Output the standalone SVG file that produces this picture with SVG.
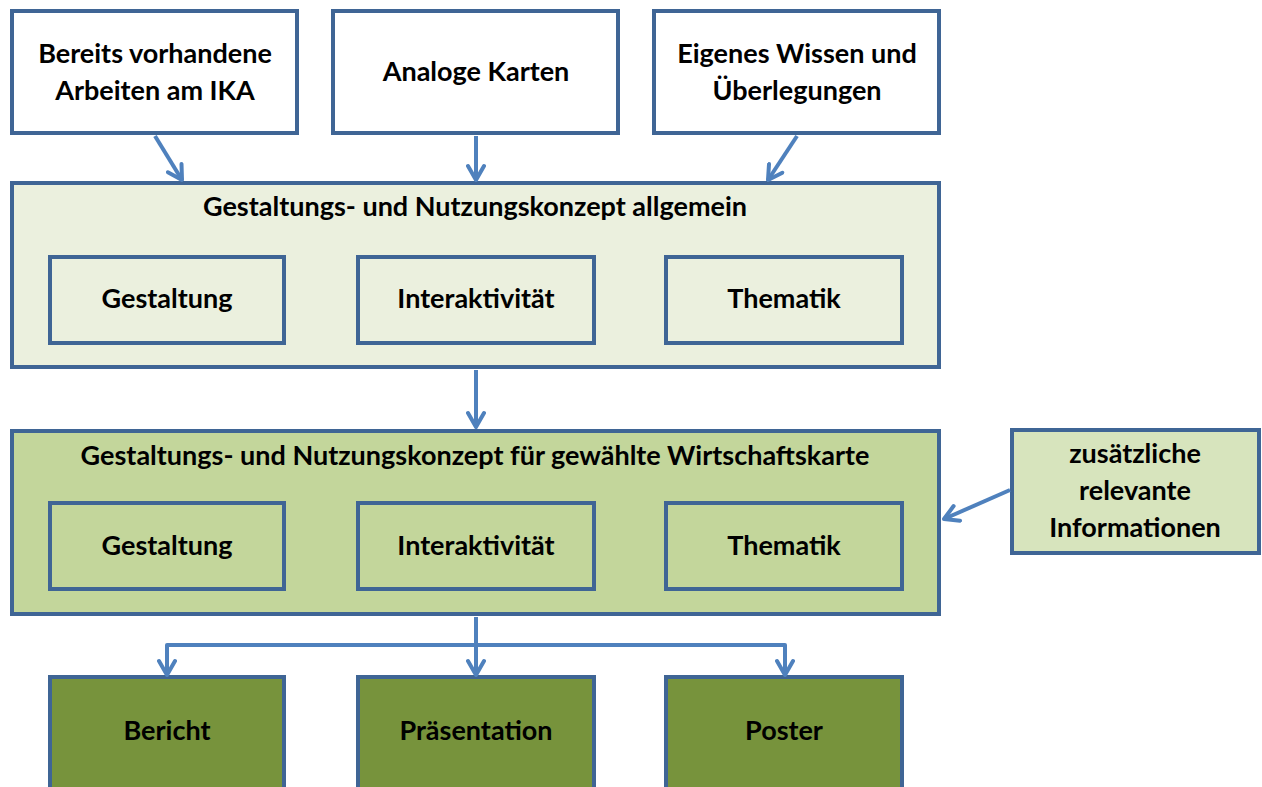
<svg xmlns="http://www.w3.org/2000/svg" width="1262" height="787" viewBox="0 0 1262 787">
<defs>
<style>
.box{stroke:#3F6595;stroke-width:4}
.w{fill:#FFFFFF}
.l1{fill:#EBF0DE}
.l2{fill:#C3D69B}
.l3{fill:#D7E4BD}
.d{fill:#77933C}
text{font-family:Lato,"Open Sans",sans-serif;font-weight:bold;font-size:27px;fill:#000;text-anchor:middle}
.c{fill:none;stroke:#4F81BD;stroke-width:4;stroke-linejoin:round}
</style>
<marker id="ah" viewBox="0 0 10 10" refX="9" refY="5" markerWidth="5" markerHeight="5" orient="auto" markerUnits="strokeWidth">
<polyline points="2,1 9,5 2,9" fill="none" stroke="#4F81BD" stroke-width="2" stroke-linecap="round" stroke-linejoin="round"/>
</marker>
</defs>
<rect width="1262" height="787" fill="#FFFFFF"/>
<g id="n1"><rect class="box w" x="12" y="11" width="285" height="122"/><text x="155" y="63">Bereits vorhandene</text><text x="155" y="100">Arbeiten am IKA</text></g>
<g id="n2"><rect class="box w" x="333" y="11" width="285" height="122"/><text x="476" y="81">Analoge Karten</text></g>
<g id="n3"><rect class="box w" x="654" y="11" width="285" height="122"/><text x="797" y="63">Eigenes Wissen und</text><text x="797" y="100">Überlegungen</text></g>
<g id="g1"><rect class="box l1" x="12" y="183" width="927" height="184"/><text x="475" y="216">Gestaltungs- und Nutzungskonzept allgemein</text></g>
<g id="g1a"><rect class="box l1" x="50" y="257" width="234" height="86"/><text x="167" y="308">Gestaltung</text></g>
<g id="g1b"><rect class="box l1" x="358" y="257" width="236" height="86"/><text x="476" y="308">Interaktivität</text></g>
<g id="g1c"><rect class="box l1" x="666" y="257" width="236" height="86"/><text x="784" y="308">Thematik</text></g>
<g id="g2"><rect class="box l2" x="12" y="431" width="927" height="183"/><text x="475" y="465">Gestaltungs- und Nutzungskonzept für gewählte Wirtschaftskarte</text></g>
<g id="g2a"><rect class="box l2" x="50" y="503" width="234" height="86"/><text x="167" y="555">Gestaltung</text></g>
<g id="g2b"><rect class="box l2" x="358" y="503" width="236" height="86"/><text x="476" y="555">Interaktivität</text></g>
<g id="g2c"><rect class="box l2" x="666" y="503" width="236" height="86"/><text x="784" y="555">Thematik</text></g>
<g id="side"><rect class="box l3" x="1012" y="430" width="247" height="123"/><text x="1135" y="463">zusätzliche</text><text x="1135" y="500">relevante</text><text x="1135" y="537">Informationen</text></g>
<g id="o1"><rect class="box d" x="50" y="677" width="234" height="120"/><text x="167" y="740">Bericht</text></g>
<g id="o2"><rect class="box d" x="358" y="677" width="236" height="120"/><text x="476" y="740">Präsentation</text></g>
<g id="o3"><rect class="box d" x="666" y="677" width="236" height="120"/><text x="784" y="740">Poster</text></g>
<g id="connectors">
<line class="c" x1="155" y1="136" x2="182" y2="180" marker-end="url(#ah)"/>
<line class="c" x1="476" y1="136" x2="476" y2="180" marker-end="url(#ah)"/>
<line class="c" x1="797" y1="136" x2="768" y2="180" marker-end="url(#ah)"/>
<line class="c" x1="476" y1="370" x2="476" y2="427" marker-end="url(#ah)"/>
<line class="c" x1="1010" y1="490" x2="944" y2="519" marker-end="url(#ah)"/>
<polyline class="c" points="476,617 476,675" marker-end="url(#ah)"/>
<polyline class="c" points="476,645 167,645 167,675" marker-end="url(#ah)"/>
<polyline class="c" points="476,645 785,645 785,675" marker-end="url(#ah)"/>
</g>
</svg>
